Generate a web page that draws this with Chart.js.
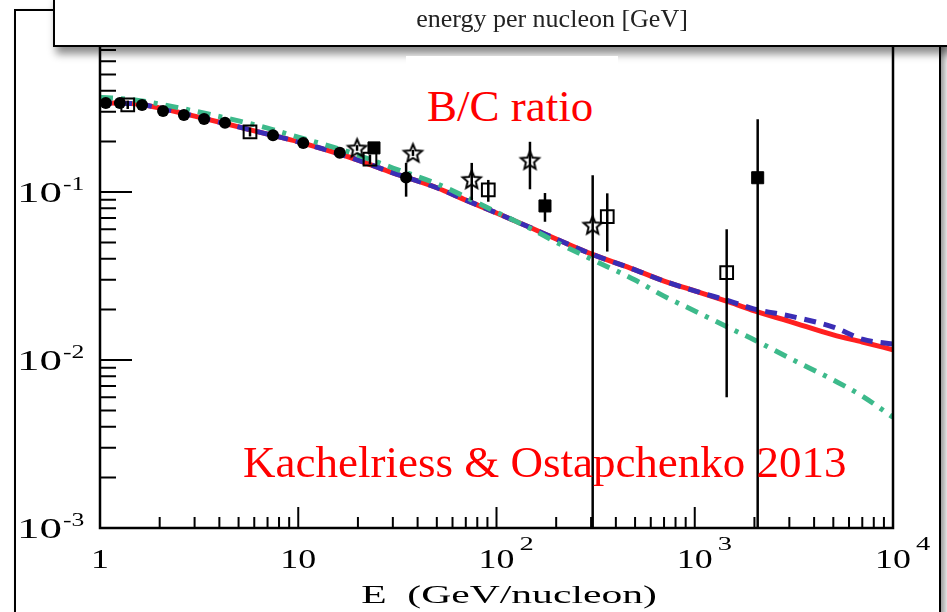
<!DOCTYPE html>
<html>
<head>
<meta charset="utf-8">
<script src="https://cdn.jsdelivr.net/npm/chart.js@4.4.1/dist/chart.umd.min.js"></script>
<style>
  html, body { margin: 0; padding: 0; background: #fff; }
  body { width: 947px; height: 612px; overflow: hidden; position: relative; font-family: "Liberation Serif", "DejaVu Serif", serif; }
  #frame { position: absolute; left: 14px; top: 9px; width: 923px; height: 700px; border: 2px solid #000; background: #fff; box-shadow: 4px 4px 6px rgba(0,0,0,0.4); z-index: 0; }
  #c { position: absolute; left: 0; top: 0; z-index: 1; }
  #topbox { position: absolute; left: 53px; top: -6px; width: 930px; height: 49px; border: 2px solid #000; background: #fff; box-shadow: 3px 7px 8px rgba(0,0,0,0.45); z-index: 2; }
  #toptext { position: absolute; left: 352px; top: 6px; width: 400px; text-align: center; font-size: 26px; line-height: 26px; color: #222; z-index: 3; }
  #whitebox { position: absolute; left: 406px; top: 56px; width: 212px; height: 76px; background: #fff; z-index: 3; }
  .note { position: absolute; color: #ff0000; font-size: 45px; line-height: 45px; white-space: nowrap; z-index: 4; }
</style>
</head>
<body>
<div id="frame"></div>
<canvas id="c" width="947" height="612"></canvas>
<div id="topbox"></div>
<div id="toptext">energy per nucleon [GeV]</div>
<div id="whitebox"></div>
<div class="note" style="left:427px; top:84px;">B/C ratio</div>
<div class="note" style="left:243px; top:440px;">Kachelriess &amp; Ostapchenko 2013</div>
<script>
// model curves
const curveEnergy = [1, 1.5, 2, 3, 5, 7, 10, 15, 20, 30, 50, 70, 100, 150, 200, 300, 500, 700, 1000, 1500, 2000, 3000, 5000, 7000, 10000];
const redModel = [0.339, 0.335, 0.316, 0.283, 0.244, 0.221, 0.199, 0.173, 0.155, 0.130, 0.106, 0.0895, 0.075, 0.061, 0.0525, 0.0428, 0.0344, 0.0295, 0.0258, 0.0221, 0.0196, 0.0170, 0.0141, 0.0128, 0.0115];
const blueModel = [0.339, 0.335, 0.316, 0.283, 0.244, 0.221, 0.199, 0.173, 0.155, 0.130, 0.106, 0.0895, 0.075, 0.061, 0.0525, 0.0428, 0.0344, 0.0295, 0.0258, 0.0224, 0.0201, 0.0183, 0.0157, 0.0133, 0.01245];
const greenModel = [0.367, 0.353, 0.334, 0.303, 0.265, 0.240, 0.212, 0.185, 0.166, 0.139, 0.112, 0.0933, 0.076, 0.0603, 0.0503, 0.0399, 0.0299, 0.0240, 0.0196, 0.0155, 0.01316, 0.01028, 0.0076, 0.0061, 0.00456];

// measurements: filled circles
const circE = [1.07, 1.26, 1.63, 2.08, 2.65, 3.35, 4.27, 7.46, 10.6, 16.2, 35.0];
const circBC = [0.339, 0.339, 0.330, 0.303, 0.287, 0.272, 0.258, 0.218, 0.196, 0.171, 0.122];
const circLo = [null, null, null, null, null, null, null, null, null, null, 0.0938];
const circHi = [null, null, null, null, null, null, null, null, null, null, 0.149];

// open squares
const openE = [1.38, 5.71, 23.0, 90.9, 362, 1449];
const openBC = [0.330, 0.228, 0.157, 0.103, 0.0713, 0.0331];
const openLo = [0.312, 0.214, 0.147, 0.0875, 0.0442, 0.006];
const openHi = [0.350, 0.242, 0.167, 0.118, 0.0982, 0.060];

// filled squares
const fillE = [24.1, 175.6, 2077];
const fillBC = [0.183, 0.0826, 0.1216];
const fillLo = [null, 0.0665, 0.0005];
const fillHi = [null, 0.0986, 0.271];

// open stars
const starE = [19.8, 37.9, 75, 147.5, 305.6];
const starBC = [0.183, 0.171, 0.119, 0.155, 0.0637];
const starLo = [0.176, 0.164, 0.0895, 0.1038, 0.0005];
const starHi = [0.190, 0.178, 0.149, 0.199, 0.126];

// axis ticks and labels
const xDecades = [1, 10, 100, 1000, 10000];
const xTickLabels = [['1', ''], ['10', ''], ['10', '2'], ['10', '3'], ['10', '4']];
const yDecades = [0.001, 0.01, 0.1, 1];
const yTickLabels = [['10', '-3'], ['10', '-2'], ['10', '-1'], null];
const xTitle = 'E  (GeV/nucleon)';

function pts(xs, ys) {
  return xs.map((x, i) => ({ x: x, y: ys[i] }));
}

function makeStar(R, lw) {
  const c = document.createElement('canvas');
  const s = Math.ceil(2 * R + 2 * lw + 2);
  c.width = s; c.height = s;
  const g = c.getContext('2d');
  g.translate(s / 2, s / 2 + R * 0.1);
  g.beginPath();
  for (let i = 0; i < 10; i++) {
    const r = i % 2 ? R * 0.45 : R;
    const a = -Math.PI / 2 + i * Math.PI / 5;
    g.lineTo(r * Math.cos(a), r * Math.sin(a));
  }
  g.closePath();
  g.lineWidth = lw;
  g.strokeStyle = '#000';
  g.stroke();
  return c;
}
const starImg = makeStar(9.5, 2);

const errorSets = [
  [circE, circLo, circHi],
  [openE, openLo, openHi],
  [fillE, fillLo, fillHi],
  [starE, starLo, starHi]
];

// vertical error bars
const errorBars = {
  id: 'errorBars',
  afterDatasetsDraw(chart) {
    const { ctx, chartArea: a, scales: { x, y } } = chart;
    ctx.save();
    ctx.beginPath();
    ctx.rect(a.left, a.top, a.right - a.left, a.bottom - a.top);
    ctx.clip();
    ctx.strokeStyle = '#000';
    ctx.lineWidth = 2.5;
    errorSets.forEach(([es, lo, hi]) => {
      es.forEach((e, i) => {
        if (lo[i] == null) return;
        const px = x.getPixelForValue(e);
        ctx.beginPath();
        ctx.moveTo(px, Math.min(y.getPixelForValue(lo[i]), a.bottom));
        ctx.lineTo(px, y.getPixelForValue(hi[i]));
        ctx.stroke();
      });
    });
    ctx.restore();
  }
};

function stretched(ctx, text, x, yb, size, sx, align) {
  ctx.save();
  ctx.font = size + 'px "Liberation Serif", serif';
  const w = ctx.measureText(text).width * sx;
  let left = x;
  if (align === 'center') left = x - w / 2;
  ctx.translate(left, yb);
  ctx.scale(sx, 1);
  ctx.textAlign = 'left';
  ctx.textBaseline = 'alphabetic';
  ctx.fillText(text, 0, 0);
  ctx.restore();
  return left + w;
}

// frame, inward ticks and labels
const frameAxes = {
  id: 'frameAxes',
  afterDraw(chart) {
    const { ctx, chartArea: a, scales: { x, y } } = chart;
    ctx.save();
    ctx.strokeStyle = '#000';
    ctx.fillStyle = '#000';
    ctx.lineWidth = 2.5;
    ctx.strokeRect(a.left, a.top, a.right - a.left, a.bottom - a.top);

    ctx.lineWidth = 2;
    ctx.beginPath();
    xDecades.forEach((d, k) => {
      const px = x.getPixelForValue(d);
      ctx.moveTo(px, a.bottom); ctx.lineTo(px, a.bottom - 21);
      if (k < xDecades.length - 1) {
        for (let m = 2; m < 10; m++) {
          const q = x.getPixelForValue(d * m);
          ctx.moveTo(q, a.bottom); ctx.lineTo(q, a.bottom - 11);
        }
      }
    });
    yDecades.forEach((d, k) => {
      const py = y.getPixelForValue(d);
      ctx.moveTo(a.left, py); ctx.lineTo(a.left + 32, py);
      if (k < yDecades.length - 1) {
        for (let m = 2; m < 10; m++) {
          const q = y.getPixelForValue(d * m);
          ctx.moveTo(a.left, q); ctx.lineTo(a.left + 16, q);
        }
      }
    });
    ctx.stroke();

    xDecades.forEach((d, k) => {
      const px = x.getPixelForValue(d);
      const [base, sup] = xTickLabels[k];
      const end = stretched(ctx, base, px, 568, 27, 1.33, 'center');
      if (sup) stretched(ctx, sup, end + 5, 550, 19, 1.5, 'left');
    });
    yDecades.forEach((d, k) => {
      if (!yTickLabels[k]) return;
      const py = y.getPixelForValue(d);
      const [base, sup] = yTickLabels[k];
      const end = stretched(ctx, base, 17, py + 10, 30, 1.5, 'left');
      stretched(ctx, sup, end + 1, py - 2, 19, 1.35, 'left');
    });
    stretched(ctx, xTitle, 509, 603, 26, 1.6, 'center');
    ctx.restore();
  }
};

const ctx = document.getElementById('c').getContext('2d');
new Chart(ctx, {
  type: 'scatter',
  data: {
    datasets: [
      {
        label: 'circles', data: pts(circE, circBC),
        pointStyle: 'circle', pointRadius: 6, pointBackgroundColor: '#000', pointBorderColor: '#000', pointBorderWidth: 0
      },
      {
        label: 'open squares', data: pts(openE, openBC),
        pointStyle: 'rect', pointRadius: 9, pointBackgroundColor: 'rgba(0,0,0,0)', pointBorderColor: '#000', pointBorderWidth: 2
      },
      {
        label: 'filled squares', data: pts(fillE, fillBC),
        pointStyle: 'rect', pointRadius: 8.5, pointBackgroundColor: '#000', pointBorderColor: '#000', pointBorderWidth: 1
      },
      {
        label: 'stars', data: pts(starE, starBC),
        pointStyle: starImg, pointRadius: 9
      },
      {
        type: 'line', label: 'green', data: pts(curveEnergy, greenModel),
        borderColor: '#3dba8b', borderWidth: 5, borderDash: [13, 8, 4, 8], pointRadius: 0,
        cubicInterpolationMode: 'monotone', fill: false
      },
      {
        type: 'line', label: 'blue', data: pts(curveEnergy, blueModel),
        borderColor: '#3a2db5', borderWidth: 5, borderDash: [12, 8], pointRadius: 0,
        cubicInterpolationMode: 'monotone', fill: false
      },
      {
        type: 'line', label: 'red', data: pts(curveEnergy, redModel),
        borderColor: '#ff2020', borderWidth: 5, pointRadius: 0,
        cubicInterpolationMode: 'monotone', fill: false
      }
    ]
  },
  options: {
    responsive: false,
    animation: false,
    layout: { padding: { left: 100, right: 54, top: 24, bottom: 84 } },
    scales: {
      x: { type: 'logarithmic', min: 1, max: 10000, display: false },
      y: { type: 'logarithmic', min: 0.001, max: 1, display: false }
    },
    plugins: {
      legend: { display: false },
      tooltip: { enabled: false }
    }
  },
  plugins: [errorBars, frameAxes]
});
</script>
</body>
</html>
